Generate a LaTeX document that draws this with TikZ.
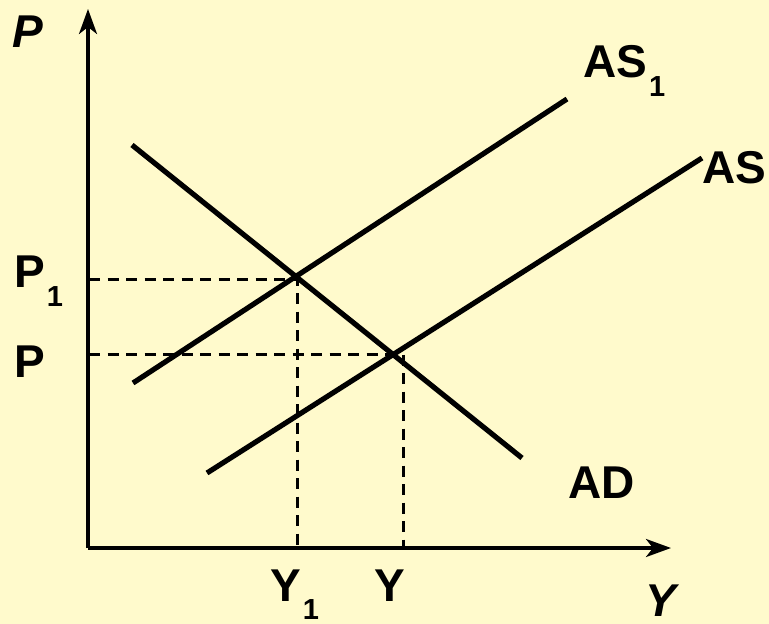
\documentclass[tikz,border=0pt]{standalone}
\usepackage{fontspec}
\setmainfont{Liberation Sans}
\usetikzlibrary{arrows.meta}
\definecolor{bg}{RGB}{255,250,204}
\newcommand{\subone}[1]{\raisebox{-#1}{\kern2pt\fontsize{29}{30}\selectfont\bfseries 1}}
\begin{document}
\begin{tikzpicture}[x=1pt,y=-1pt,
  axis/.style={line width=3.5pt,-{Stealth[length=25pt,width=18pt,inset=7pt]}},
  curve/.style={line width=5.2pt},
  guide/.style={line width=3pt,dash pattern=on 11pt off 7.5pt},
  lbl/.style={inner sep=0pt,anchor=base west,font=\fontsize{46}{50}\selectfont\bfseries}]
\fill[bg] (0,0) rectangle (769,624);
\useasboundingbox (0,0) rectangle (769,624);
% axes
\coordinate (O) at (88,548);
\coordinate (Ptop) at (88,9);
\coordinate (Yend) at (671,548);
\draw[axis] (O) -- (Ptop);
\draw[axis] (O) -- (Yend);
% curves
\coordinate (ad1) at (132,145); \coordinate (ad2) at (522,458);
\coordinate (as1a) at (133,383); \coordinate (as1b) at (567,99);
\coordinate (asa) at (207,473); \coordinate (asb) at (702,158);
\draw[curve] (ad1) -- (ad2);
\draw[curve] (as1a) -- (as1b);
\draw[curve] (asa) -- (asb);
% guides
\coordinate (p1ax) at (89,279); \coordinate (e1) at (297,279); \coordinate (y1ax) at (297,548);
\coordinate (pax) at (89,354); \coordinate (e0) at (403,354); \coordinate (yax) at (403,548);
\draw[guide] (p1ax) -- (e1) -- (y1ax);
\draw[guide] (pax) -- (e0) -- (yax);
% labels
\node[lbl,font=\fontsize{46}{50}\selectfont\bfseries\itshape] (lP) at (12,47) {P};
\node[lbl] (lAS1) at (583,77) {AS\subone{19pt}};
\node[lbl] (lAS) at (702,183) {AS};
\node[lbl] (lP1) at (14,287) {P\subone{19pt}};
\node[lbl] (lP0) at (14,377) {P};
\node[lbl] (lAD) at (568,498) {AD};
\node[lbl] (lY1) at (270,601) {Y\subone{18pt}};
\node[lbl] (lY0) at (374,601) {Y};
\node[lbl,font=\fontsize{46}{50}\selectfont\bfseries\itshape] (lYi) at (645,616) {Y};
\end{tikzpicture}
\end{document}
